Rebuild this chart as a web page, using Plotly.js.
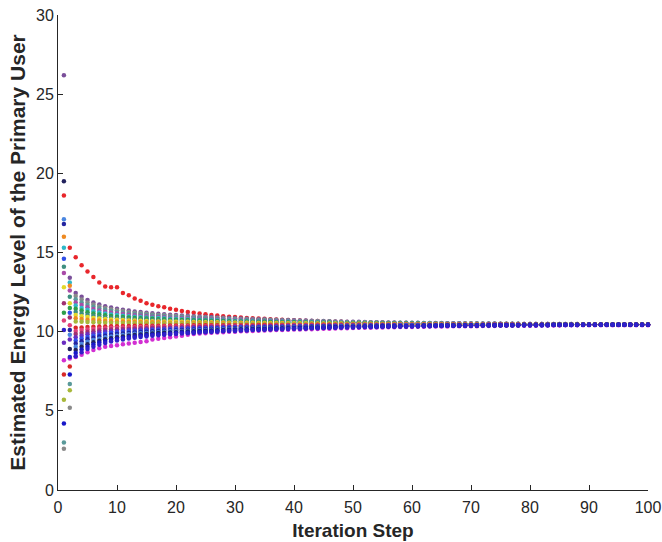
<!DOCTYPE html>
<html>
<head>
<meta charset="utf-8">
<script src="https://cdn.plot.ly/plotly-3.0.1.min.js"></script>
<style>html,body{margin:0;padding:0;background:#fff;}#chart{width:662px;height:542px;}</style>
</head>
<body>
<div id="chart"></div>
<script>
const iterations = [1,2,3,4,5,6,7,8,9,10,11,12,13,14,15,16,17,18,19,20,21,22,23,24,25,26,27,28,29,30,31,32,33,34,35,36,37,38,39,40,41,42,43,44,45,46,47,48,49,50,51,52,53,54,55,56,57,58,59,60,61,62,63,64,65,66,67,68,69,70,71,72,73,74,75,76,77,78,79,80,81,82,83,84,85,86,87,88,89,90,91,92,93,94,95,96,97,98,99,100];
const xTicks = [0,10,20,30,40,50,60,70,80,90,100];
const yTicks = [0,5,10,15,20,25,30];

const userRed = [18.6,15.3,14.7,14.2,13.8,13.45,13.1,12.85,12.8,12.8,12.45,12.3,12.1,11.95,11.8,11.7,11.6,11.55,11.45,11.38,11.3,11.25,11.2,11.15,11.1,11.06,11.02,10.98,10.95,10.92,10.89,10.87,10.85,10.83,10.81,10.79,10.77,10.75,10.74,10.72,10.71,10.69,10.68,10.67,10.65,10.64,10.63,10.62,10.61,10.60,10.59,10.58,10.57,10.57,10.56,10.55,10.55,10.54,10.54,10.53,10.53,10.52,10.52,10.51,10.51,10.51,10.50,10.50,10.50,10.49,10.49,10.49,10.49,10.48,10.48,10.48,10.48,10.48,10.47,10.47,10.47,10.47,10.47,10.47,10.47,10.46,10.46,10.46,10.46,10.46,10.46,10.46,10.46,10.46,10.46,10.46,10.46,10.46,10.46,10.46];
const userMagenta = [8.2,8.3,8.4,8.55,8.7,8.85,8.95,9.05,9.1,9.15,9.2,9.25,9.3,9.35,9.4,9.5,9.55,9.6,9.65,9.7,9.75,9.8,9.85,9.88,9.9,9.93,9.95,9.97,9.99,10.0,10.02,10.03,10.05,10.06,10.07,10.09,10.10,10.11,10.12,10.13,10.14,10.15,10.16,10.17,10.18,10.19,10.20,10.21,10.22,10.23,10.24,10.25,10.25,10.26,10.27,10.28,10.28,10.29,10.30,10.30,10.31,10.31,10.32,10.32,10.33,10.33,10.34,10.34,10.35,10.35,10.35,10.36,10.36,10.36,10.37,10.37,10.37,10.38,10.38,10.38,10.38,10.39,10.39,10.39,10.39,10.40,10.40,10.40,10.40,10.40,10.41,10.41,10.41,10.41,10.41,10.41,10.41,10.41,10.41,10.41];
const userP10 = [26.2,13.4,12.45,12.20,12.00,11.85,11.72,11.61,11.52,11.45,11.39,11.33,11.28,11.24,11.20,11.16,11.13,11.10,11.07,11.05,11.02,11.00,10.98,10.96,10.94,10.92,10.90,10.88,10.86,10.85,10.83,10.82,10.80,10.79,10.78,10.76,10.75,10.74,10.73,10.72,10.71,10.70,10.69,10.68,10.67,10.66,10.65,10.64,10.63,10.63,10.62,10.61,10.60,10.60,10.59,10.58,10.58,10.57,10.57,10.56,10.56,10.55,10.55,10.54,10.54,10.53,10.53,10.53,10.52,10.52,10.52,10.51,10.51,10.51,10.50,10.50,10.50,10.50,10.49,10.49,10.49,10.49,10.49,10.48,10.48,10.48,10.48,10.48,10.47,10.47,10.47,10.47,10.47,10.47,10.47,10.47,10.47,10.47,10.47,10.47];
const userP09 = [2.6,5.2,12.25,12.03,11.85,11.71,11.59,11.49,11.41,11.35,11.30,11.24,11.20,11.16,11.13,11.09,11.06,11.04,11.01,10.99,10.96,10.95,10.93,10.91,10.89,10.87,10.86,10.84,10.82,10.81,10.79,10.78,10.77,10.76,10.75,10.73,10.72,10.71,10.70,10.69,10.68,10.68,10.67,10.66,10.65,10.64,10.63,10.62,10.61,10.61,10.60,10.59,10.59,10.59,10.58,10.57,10.57,10.56,10.56,10.55,10.55,10.54,10.54,10.53,10.53,10.52,10.52,10.52,10.51,10.51,10.51,10.50,10.50,10.50,10.50,10.50,10.50,10.50,10.49,10.49,10.49,10.49,10.49,10.48,10.48,10.48,10.48,10.48,10.47,10.47,10.47,10.47,10.47,10.47,10.47,10.47,10.47,10.47,10.47,10.47];
const userP08 = [3.0,6.7,12.05,11.85,11.69,11.57,11.47,11.38,11.31,11.25,11.20,11.15,11.11,11.08,11.05,11.02,10.99,10.97,10.95,10.93,10.91,10.89,10.87,10.86,10.84,10.83,10.81,10.79,10.78,10.77,10.75,10.75,10.73,10.72,10.71,10.70,10.69,10.68,10.67,10.67,10.66,10.65,10.64,10.63,10.63,10.62,10.61,10.60,10.59,10.59,10.59,10.58,10.57,10.57,10.56,10.55,10.55,10.55,10.55,10.54,10.54,10.53,10.53,10.52,10.52,10.51,10.51,10.51,10.51,10.51,10.51,10.50,10.50,10.50,10.49,10.49,10.49,10.49,10.48,10.48,10.48,10.48,10.48,10.47,10.47,10.47,10.47,10.47,10.47,10.47,10.47,10.47,10.46,10.46,10.46,10.46,10.46,10.46,10.46,10.46];
const userP07 = [13.7,12.6,11.85,11.68,11.54,11.43,11.34,11.26,11.20,11.15,11.11,11.07,11.03,11.00,10.98,10.95,10.93,10.91,10.88,10.87,10.85,10.84,10.82,10.81,10.79,10.78,10.77,10.75,10.74,10.73,10.72,10.71,10.70,10.69,10.68,10.67,10.66,10.65,10.65,10.64,10.63,10.63,10.62,10.61,10.60,10.60,10.59,10.58,10.58,10.58,10.57,10.56,10.56,10.56,10.55,10.54,10.54,10.53,10.53,10.53,10.53,10.52,10.52,10.51,10.51,10.51,10.51,10.51,10.50,10.50,10.50,10.49,10.49,10.49,10.49,10.49,10.49,10.49,10.48,10.48,10.48,10.48,10.48,10.47,10.47,10.47,10.47,10.47,10.46,10.46,10.46,10.46,10.46,10.46,10.46,10.46,10.46,10.46,10.46,10.46];
const userP06 = [15.3,13.1,11.65,11.50,11.38,11.29,11.21,11.15,11.09,11.05,11.01,10.98,10.95,10.92,10.90,10.88,10.86,10.84,10.82,10.81,10.79,10.78,10.77,10.76,10.74,10.73,10.72,10.71,10.70,10.69,10.68,10.67,10.66,10.65,10.65,10.64,10.63,10.62,10.62,10.61,10.61,10.60,10.59,10.59,10.58,10.58,10.57,10.56,10.56,10.56,10.55,10.55,10.54,10.54,10.53,10.53,10.53,10.52,10.52,10.52,10.52,10.51,10.51,10.50,10.50,10.50,10.50,10.50,10.49,10.49,10.49,10.49,10.49,10.49,10.48,10.48,10.48,10.48,10.47,10.47,10.47,10.47,10.47,10.47,10.47,10.47,10.47,10.47,10.46,10.46,10.46,10.46,10.46,10.46,10.46,10.46,10.46,10.46,10.46,10.46];
const userP05 = [11.2,11.5,11.45,11.33,11.23,11.15,11.09,11.03,10.99,10.95,10.92,10.89,10.87,10.85,10.83,10.81,10.79,10.78,10.76,10.75,10.74,10.73,10.72,10.71,10.70,10.69,10.68,10.67,10.66,10.65,10.64,10.64,10.63,10.62,10.62,10.61,10.60,10.60,10.59,10.59,10.58,10.58,10.57,10.57,10.56,10.56,10.55,10.55,10.54,10.54,10.54,10.53,10.53,10.53,10.52,10.52,10.52,10.51,10.51,10.51,10.51,10.50,10.50,10.50,10.50,10.49,10.49,10.49,10.49,10.49,10.49,10.48,10.48,10.48,10.48,10.48,10.48,10.48,10.47,10.47,10.47,10.47,10.47,10.47,10.47,10.47,10.47,10.47,10.46,10.46,10.46,10.46,10.46,10.46,10.46,10.46,10.46,10.46,10.46,10.46];
const userP04 = [14.1,12.2,11.25,11.15,11.07,11.01,10.96,10.91,10.88,10.85,10.83,10.80,10.78,10.77,10.75,10.73,10.72,10.71,10.70,10.69,10.68,10.67,10.66,10.65,10.65,10.64,10.63,10.62,10.61,10.61,10.60,10.60,10.59,10.59,10.58,10.57,10.57,10.57,10.56,10.56,10.55,10.55,10.55,10.54,10.54,10.53,10.53,10.53,10.52,10.52,10.52,10.51,10.51,10.51,10.51,10.50,10.50,10.50,10.50,10.49,10.49,10.49,10.49,10.49,10.49,10.48,10.48,10.48,10.48,10.48,10.48,10.47,10.47,10.47,10.47,10.47,10.47,10.47,10.47,10.47,10.47,10.47,10.47,10.46,10.46,10.46,10.46,10.46,10.46,10.46,10.46,10.46,10.46,10.46,10.46,10.46,10.46,10.46,10.46,10.46];
const userP03 = [12.8,11.8,11.05,10.98,10.92,10.87,10.83,10.80,10.77,10.75,10.73,10.71,10.70,10.69,10.68,10.66,10.65,10.65,10.64,10.63,10.62,10.62,10.61,10.60,10.60,10.59,10.59,10.58,10.57,10.57,10.56,10.56,10.56,10.55,10.55,10.54,10.54,10.54,10.53,10.53,10.53,10.53,10.52,10.52,10.52,10.51,10.51,10.51,10.50,10.50,10.50,10.50,10.50,10.50,10.49,10.49,10.49,10.49,10.49,10.48,10.48,10.48,10.48,10.48,10.48,10.47,10.47,10.47,10.47,10.47,10.47,10.47,10.47,10.47,10.47,10.47,10.47,10.47,10.46,10.46,10.46,10.46,10.46,10.46,10.46,10.46,10.46,10.46,10.46,10.46,10.46,10.46,10.46,10.46,10.46,10.46,10.46,10.46,10.46,10.46];
const userP02 = [16.0,12.9,10.85,10.80,10.76,10.73,10.70,10.68,10.66,10.65,10.64,10.63,10.62,10.61,10.60,10.59,10.59,10.58,10.57,10.57,10.56,10.56,10.56,10.55,10.55,10.54,10.54,10.54,10.53,10.53,10.53,10.52,10.52,10.52,10.52,10.51,10.51,10.51,10.51,10.50,10.50,10.50,10.50,10.50,10.49,10.49,10.49,10.49,10.49,10.49,10.48,10.48,10.48,10.48,10.48,10.48,10.48,10.47,10.47,10.47,10.47,10.47,10.47,10.47,10.47,10.47,10.47,10.47,10.46,10.46,10.46,10.46,10.46,10.46,10.46,10.46,10.46,10.46,10.46,10.46,10.46,10.46,10.46,10.46,10.46,10.46,10.46,10.46,10.46,10.46,10.46,10.46,10.46,10.46,10.46,10.46,10.46,10.46,10.46,10.46];
const userP01 = [5.7,6.3,10.65,10.63,10.61,10.59,10.58,10.57,10.56,10.55,10.54,10.54,10.53,10.53,10.53,10.52,10.52,10.52,10.51,10.51,10.51,10.51,10.50,10.50,10.50,10.50,10.50,10.49,10.49,10.49,10.49,10.49,10.49,10.48,10.48,10.48,10.48,10.48,10.48,10.48,10.48,10.48,10.47,10.47,10.47,10.47,10.47,10.47,10.47,10.47,10.47,10.47,10.47,10.47,10.46,10.46,10.46,10.46,10.46,10.46,10.46,10.46,10.46,10.46,10.46,10.46,10.46,10.46,10.46,10.46,10.46,10.46,10.45,10.45,10.45,10.45,10.45,10.45,10.45,10.45,10.45,10.45,10.45,10.45,10.45,10.45,10.45,10.45,10.45,10.45,10.45,10.45,10.45,10.45,10.45,10.45,10.45,10.45,10.45,10.45];
const userM01 = [7.3,7.8,10.25,10.27,10.29,10.31,10.32,10.33,10.34,10.35,10.36,10.36,10.37,10.37,10.37,10.38,10.38,10.38,10.39,10.39,10.39,10.39,10.40,10.40,10.40,10.40,10.40,10.41,10.41,10.41,10.41,10.41,10.41,10.42,10.42,10.42,10.42,10.42,10.42,10.42,10.42,10.42,10.43,10.43,10.43,10.43,10.43,10.43,10.43,10.43,10.43,10.43,10.43,10.43,10.44,10.44,10.44,10.44,10.44,10.44,10.44,10.44,10.44,10.44,10.44,10.44,10.44,10.44,10.44,10.44,10.44,10.44,10.45,10.45,10.45,10.45,10.45,10.45,10.45,10.45,10.45,10.45,10.45,10.45,10.45,10.45,10.45,10.45,10.45,10.45,10.45,10.45,10.45,10.45,10.45,10.45,10.45,10.45,10.45,10.45];
const userM02 = [10.7,10.4,10.05,10.10,10.14,10.17,10.20,10.22,10.24,10.25,10.26,10.27,10.28,10.29,10.30,10.31,10.31,10.32,10.33,10.33,10.34,10.34,10.34,10.35,10.35,10.36,10.36,10.36,10.37,10.37,10.37,10.38,10.38,10.38,10.38,10.39,10.39,10.39,10.39,10.40,10.40,10.40,10.40,10.40,10.41,10.41,10.41,10.41,10.41,10.41,10.42,10.42,10.42,10.42,10.42,10.42,10.42,10.43,10.43,10.43,10.43,10.43,10.43,10.43,10.43,10.43,10.43,10.43,10.44,10.44,10.44,10.44,10.44,10.44,10.44,10.44,10.44,10.44,10.44,10.44,10.44,10.44,10.44,10.44,10.44,10.44,10.44,10.44,10.44,10.44,10.44,10.44,10.44,10.44,10.44,10.44,10.44,10.44,10.44,10.44];
const userM03 = [11.8,10.9,9.85,9.92,9.98,10.03,10.07,10.10,10.13,10.15,10.17,10.19,10.20,10.21,10.22,10.24,10.25,10.25,10.26,10.27,10.28,10.28,10.29,10.30,10.30,10.31,10.31,10.32,10.33,10.33,10.34,10.34,10.34,10.35,10.35,10.36,10.36,10.36,10.37,10.37,10.37,10.37,10.38,10.38,10.38,10.39,10.39,10.39,10.40,10.40,10.40,10.40,10.40,10.40,10.41,10.41,10.41,10.41,10.41,10.42,10.42,10.42,10.42,10.42,10.42,10.43,10.43,10.43,10.43,10.43,10.43,10.43,10.43,10.43,10.43,10.43,10.43,10.43,10.44,10.44,10.44,10.44,10.44,10.44,10.44,10.44,10.44,10.44,10.44,10.44,10.44,10.44,10.44,10.44,10.44,10.44,10.44,10.44,10.44,10.44];
const userM04 = [9.3,9.5,9.65,9.75,9.83,9.89,9.94,9.99,10.02,10.05,10.07,10.10,10.12,10.13,10.15,10.17,10.18,10.19,10.20,10.21,10.22,10.23,10.24,10.25,10.25,10.26,10.27,10.28,10.29,10.29,10.30,10.30,10.31,10.31,10.32,10.33,10.33,10.33,10.34,10.34,10.35,10.35,10.35,10.36,10.36,10.37,10.37,10.37,10.38,10.38,10.38,10.39,10.39,10.39,10.39,10.40,10.40,10.40,10.40,10.41,10.41,10.41,10.41,10.41,10.41,10.42,10.42,10.42,10.42,10.42,10.42,10.43,10.43,10.43,10.43,10.43,10.43,10.43,10.43,10.43,10.43,10.43,10.43,10.44,10.44,10.44,10.44,10.44,10.44,10.44,10.44,10.44,10.44,10.44,10.44,10.44,10.44,10.44,10.44,10.44];
const userM05 = [14.6,11.2,9.45,9.57,9.67,9.75,9.81,9.87,9.91,9.95,9.98,10.01,10.03,10.05,10.07,10.09,10.11,10.12,10.14,10.15,10.16,10.17,10.18,10.19,10.20,10.21,10.22,10.23,10.24,10.25,10.26,10.26,10.27,10.28,10.28,10.29,10.30,10.30,10.31,10.31,10.32,10.32,10.33,10.33,10.34,10.34,10.35,10.35,10.36,10.36,10.36,10.37,10.37,10.37,10.38,10.38,10.38,10.39,10.39,10.39,10.39,10.40,10.40,10.40,10.40,10.41,10.41,10.41,10.41,10.41,10.41,10.42,10.42,10.42,10.42,10.42,10.42,10.42,10.43,10.43,10.43,10.43,10.43,10.43,10.43,10.43,10.43,10.43,10.44,10.44,10.44,10.44,10.44,10.44,10.44,10.44,10.44,10.44,10.44,10.44];
const userM06 = [16.8,10.1,9.25,9.40,9.52,9.61,9.69,9.75,9.81,9.85,9.89,9.92,9.95,9.98,10.00,10.02,10.04,10.06,10.08,10.09,10.11,10.12,10.13,10.14,10.16,10.17,10.18,10.19,10.20,10.21,10.22,10.23,10.24,10.25,10.25,10.26,10.27,10.28,10.28,10.29,10.29,10.30,10.31,10.31,10.32,10.32,10.33,10.34,10.34,10.34,10.35,10.35,10.36,10.36,10.37,10.37,10.37,10.38,10.38,10.38,10.38,10.39,10.39,10.40,10.40,10.40,10.40,10.40,10.41,10.41,10.41,10.41,10.41,10.41,10.42,10.42,10.42,10.42,10.43,10.43,10.43,10.43,10.43,10.43,10.43,10.43,10.43,10.43,10.44,10.44,10.44,10.44,10.44,10.44,10.44,10.44,10.44,10.44,10.44,10.44];
const userM07 = [17.1,9.8,9.05,9.22,9.36,9.47,9.56,9.64,9.70,9.75,9.79,9.83,9.87,9.90,9.92,9.95,9.97,9.99,10.02,10.03,10.05,10.06,10.08,10.09,10.11,10.12,10.13,10.15,10.16,10.17,10.18,10.19,10.20,10.21,10.22,10.23,10.24,10.25,10.25,10.26,10.27,10.27,10.28,10.29,10.30,10.30,10.31,10.32,10.32,10.32,10.33,10.34,10.34,10.34,10.35,10.36,10.36,10.37,10.37,10.37,10.37,10.38,10.38,10.39,10.39,10.39,10.39,10.39,10.40,10.40,10.40,10.41,10.41,10.41,10.41,10.41,10.41,10.41,10.42,10.42,10.42,10.42,10.42,10.43,10.43,10.43,10.43,10.43,10.44,10.44,10.44,10.44,10.44,10.44,10.44,10.44,10.44,10.44,10.44,10.44];
const userM08 = [19.5,8.9,8.85,9.05,9.21,9.33,9.43,9.52,9.59,9.65,9.70,9.75,9.79,9.82,9.85,9.88,9.91,9.93,9.95,9.97,9.99,10.01,10.03,10.04,10.06,10.07,10.09,10.11,10.12,10.13,10.15,10.15,10.17,10.18,10.19,10.20,10.21,10.22,10.23,10.23,10.24,10.25,10.26,10.27,10.27,10.28,10.29,10.30,10.31,10.31,10.31,10.32,10.33,10.33,10.34,10.35,10.35,10.35,10.35,10.36,10.36,10.37,10.37,10.38,10.38,10.39,10.39,10.39,10.39,10.39,10.39,10.40,10.40,10.40,10.41,10.41,10.41,10.41,10.42,10.42,10.42,10.42,10.42,10.43,10.43,10.43,10.43,10.43,10.43,10.43,10.43,10.43,10.44,10.44,10.44,10.44,10.44,10.44,10.44,10.44];
const userM09 = [4.2,7.3,8.65,8.87,9.05,9.19,9.31,9.41,9.49,9.55,9.60,9.66,9.70,9.74,9.77,9.81,9.84,9.86,9.89,9.91,9.94,9.95,9.97,9.99,10.01,10.03,10.04,10.06,10.08,10.09,10.11,10.12,10.13,10.14,10.15,10.17,10.18,10.19,10.20,10.21,10.22,10.22,10.23,10.24,10.25,10.26,10.27,10.28,10.29,10.29,10.30,10.31,10.31,10.31,10.32,10.33,10.33,10.34,10.34,10.35,10.35,10.36,10.36,10.37,10.37,10.38,10.38,10.38,10.39,10.39,10.39,10.40,10.40,10.40,10.40,10.40,10.40,10.40,10.41,10.41,10.41,10.41,10.41,10.42,10.42,10.42,10.42,10.42,10.43,10.43,10.43,10.43,10.43,10.43,10.43,10.43,10.43,10.43,10.43,10.43];
const userM10 = [10.1,8.4,8.45,8.70,8.90,9.05,9.18,9.29,9.38,9.45,9.51,9.57,9.62,9.66,9.70,9.74,9.77,9.80,9.83,9.85,9.88,9.90,9.92,9.94,9.96,9.98,10.00,10.02,10.04,10.05,10.07,10.08,10.10,10.11,10.12,10.14,10.15,10.16,10.17,10.18,10.19,10.20,10.21,10.22,10.23,10.24,10.25,10.26,10.27,10.27,10.28,10.29,10.30,10.30,10.31,10.32,10.32,10.33,10.33,10.34,10.34,10.35,10.35,10.36,10.36,10.37,10.37,10.37,10.38,10.38,10.38,10.39,10.39,10.39,10.40,10.40,10.40,10.40,10.41,10.41,10.41,10.41,10.41,10.42,10.42,10.42,10.42,10.42,10.43,10.43,10.43,10.43,10.43,10.43,10.43,10.43,10.43,10.43,10.43,10.43];

const seriesList = [userRed,userMagenta,userP10,userP09,userP08,userP07,userP06,userP05,userP04,userP03,userP02,userP01,userM01,userM02,userM03,userM04,userM05,userM06,userM07,userM08,userM09,userM10];
const seriesColors = ['#e8262b','#d22fd2','#7a4f9a','#8a8a8a','#5a9a9a','#a94aa8','#2fb8c8','#2e9e4a','#3f8f80','#e2d82a','#ee8a22','#a8b83a','#d82828','#e0407a','#a03070','#6a2ec0','#2f4fe8','#2424a0','#4a86e0','#23235e','#1818c8','#3020c8'];

const traces = seriesList.map(function (vals, i) {
  return {
    type: 'scatter', mode: 'markers',
    x: iterations, y: vals,
    marker: {size: 4.5, color: seriesColors[i], line: {width: 0}},
    cliponaxis: false, hoverinfo: 'skip', showlegend: false
  };
});

const axisColor = '#262626';
const layout = {
  width: 662, height: 542,
  margin: {l: 58, r: 14, t: 15, b: 52, pad: 0},
  paper_bgcolor: '#ffffff', plot_bgcolor: '#ffffff',
  showlegend: false,
  font: {family: 'Liberation Sans, Arial, Helvetica, sans-serif', color: axisColor},
  xaxis: {
    range: [0, 100], tickmode: 'array', tickvals: xTicks,
    ticks: 'inside', ticklen: 5, tickwidth: 1, tickcolor: axisColor,
    showline: true, linecolor: axisColor, linewidth: 1, mirror: false,
    showgrid: false, zeroline: false, automargin: false,
    ticklabelstandoff: 3,
    tickfont: {size: 16, color: axisColor},
    title: {text: 'Iteration Step', font: {size: 19, weight: 'bold', color: axisColor}, standoff: 8}
  },
  yaxis: {
    range: [0, 30], tickmode: 'array', tickvals: yTicks,
    ticks: 'inside', ticklen: 5, tickwidth: 1, tickcolor: axisColor,
    showline: true, linecolor: axisColor, linewidth: 1, mirror: false,
    showgrid: false, zeroline: false, automargin: false,
    tickfont: {size: 16, color: axisColor},
    title: {text: 'Estimated Energy Level of the Primary User', font: {size: 21, weight: 'bold', color: axisColor}, standoff: 4}
  }
};

Plotly.newPlot('chart', traces, layout, {staticPlot: true, displayModeBar: false});
</script>
</body>
</html>
